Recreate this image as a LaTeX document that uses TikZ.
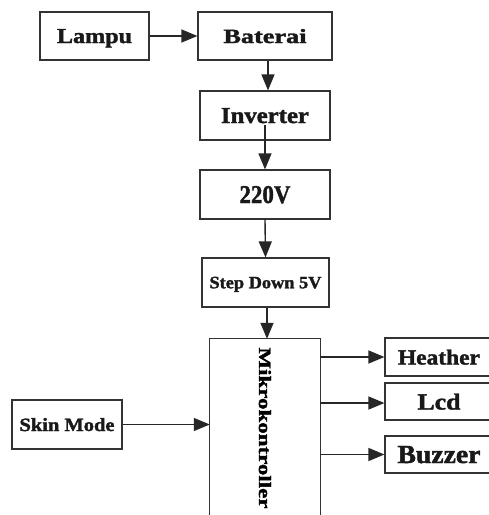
\documentclass[tikz,border=0pt]{standalone}
\usepackage{fontspec}
\setmainfont{Liberation Serif}[BoldFont={Liberation Serif Bold},BoldFeatures={FakeBold=1.6}]
\usetikzlibrary{arrows.meta}
\newcommand{\fitt}[3]{\raisebox{0pt}[#2pt][0pt]{\resizebox{#1pt}{#2pt}{\bfseries #3}}}
\begin{document}
\begin{tikzpicture}[x=1pt,y=-1pt,
  box/.style={draw=black!80, line width=1.2pt, inner sep=0pt, rectangle, text=black!90},
  arr/.style={line width=1.4pt, draw=black!85, -{Triangle[length=16pt,width=13pt]}}]
\useasboundingbox (0,0) rectangle (489,515);
\fill[white] (0,0) rectangle (489,515);
\clip (0,0) rectangle (489,515);
\node[box, minimum width=109pt, minimum height=48pt] (lampu) at (94.5,36) {\fitt{75}{14}{Lampu}};
\node[box, minimum width=134pt, minimum height=48pt] (bat) at (265,36) {\fitt{83}{14}{Baterai}};
\node[box, minimum width=130pt, minimum height=49pt] (inv) at (265,115.5) {\fitt{88}{15}{Inverter}};
\node[box, minimum width=130pt, minimum height=49pt] (v220) at (265,194.5) {\fitt{51}{17}{220V}};
\node[box, minimum width=127pt, minimum height=49pt] (sd) at (265.5,282.5) {\fitt{112}{11.5}{Step Down 5V}};
\node[inner sep=0pt, minimum width=110pt, minimum height=178pt] (mk) at (265,428) {\rotatebox{-90}{\fitt{161}{12}{Mikrokontroller}}};
\draw[draw=black!80, line width=1.2pt] (mk.south west) |- (mk.north east) -- (mk.south east);
\node[box, minimum width=110pt, minimum height=49pt] (skin) at (67,424.5) {\fitt{95}{13}{Skin Mode}};
\node[box, minimum width=108pt, minimum height=38pt] (heat) at (439,357) {\fitt{82}{15}{Heather}};
\node[box, minimum width=108pt, minimum height=37pt] (lcd) at (439,401.5) {\fitt{43}{16}{Lcd}};
\node[box, minimum width=108pt, minimum height=37pt] (buz) at (439,454.5) {\fitt{83}{17}{Buzzer}};
\draw[arr] (lampu.east) -- (bat.west);
\draw[arr] ([xshift=3pt]bat.south) -- ([xshift=3pt]inv.north);
\draw[arr] ([yshift=-9pt]inv.center) -- (v220.north);
\draw[arr] (v220.south) -- (sd.north);
\draw[arr] ([xshift=1.5pt]sd.south) -- ([xshift=1.5pt]sd.south |- mk.north);
\draw[arr] (skin.east) -- (mk.west |- skin.east);
\draw[arr] (mk.east |- heat.west) -- (heat.west);
\draw[arr] ([yshift=-1.5pt]mk.east |- lcd.west) -- ([yshift=-1.5pt]lcd.west);
\draw[arr] (mk.east |- buz.west) -- (buz.west);
\end{tikzpicture}
\end{document}
